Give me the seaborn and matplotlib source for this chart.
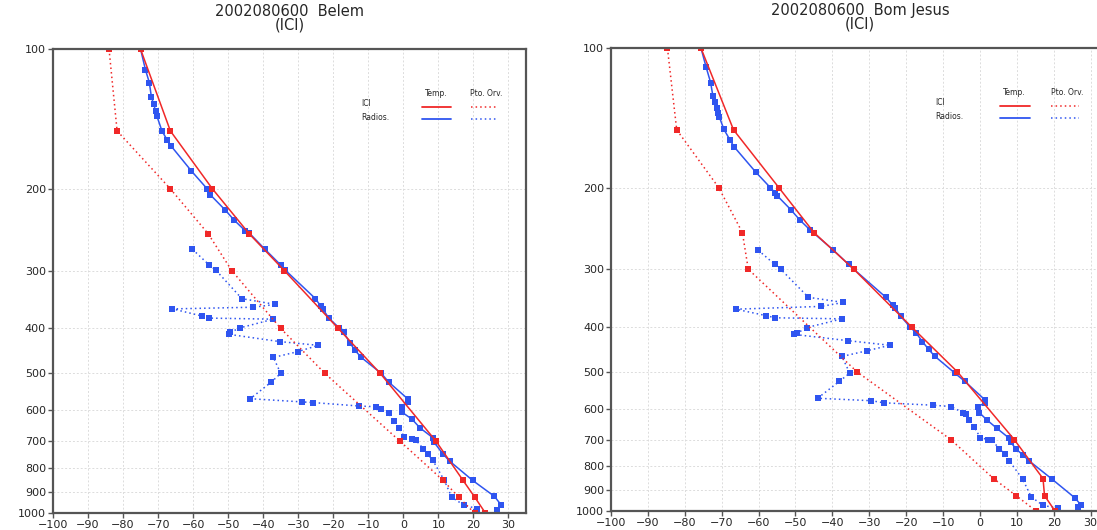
import matplotlib
matplotlib.use('Agg')
import matplotlib.pyplot as plt
import seaborn as sns

# niveis padrao do modelo ICI (hPa)
niveis_ici = [100, 150, 200, 250, 300, 400, 500, 700, 850, 925, 1000]

# --- Belem ---
belem_ici_temp = [-75, -66.5, -54.5, -44, -34, -18.6, -6.6, 9.3, 17, 20.4, 23.4]
belem_ici_orv = [-84, -81.7, -66.5, -55.7, -49, -35, -22.4, -1, 11.3, 15.8, 20.3]

belem_rad_p_temp = [100, 110.8, 118, 127, 131, 136, 139, 150, 157, 162, 183, 200, 206, 222,
                    234, 246, 249, 270, 292, 299, 345, 358, 363, 380, 399, 408, 429, 446,
                    462, 500, 522, 567, 576, 590, 607, 627, 656, 688, 703, 746, 773, 851,
                    921, 963, 985]
belem_rad_temp = [-75, -73.6, -72.5, -71.9, -71.3, -70.7, -70.4, -68.9, -67.4, -66.2, -60.5,
                  -56, -55.1, -50.9, -48.2, -45.2, -44, -39.5, -35, -33.8, -25.1, -23.6, -23,
                  -21.3, -18.3, -17, -15.3, -13.8, -12, -6.3, -4.2, 1.2, 1.2, -0.3, -0.3, 2.4,
                  4.8, 8.4, 8.7, 11.3, 13.2, 19.8, 26, 28, 26.6]

belem_rad_p_orv = [270, 292, 299, 345, 355, 360, 363, 376, 380, 382, 399, 408, 412, 427, 435,
                   449, 462, 500, 522, 567, 576, 578, 588, 590, 597, 610, 632, 656, 686, 693,
                   697, 727, 746, 770, 851, 925, 963, 978, 995]
belem_rad_orv = [-60.2, -55.4, -53.6, -46.1, -36.5, -42.8, -65.9, -57.5, -55.4, -37.1, -46.7,
                 -49.4, -49.7, -35.3, -24.3, -30.2, -37.1, -35, -37.7, -43.7, -29, -25.7, -12.6,
                 -7.8, -6.3, -4.2, -2.7, -1.2, 0.3, 2.4, 3.6, 5.7, 6.9, 8.4, 11.7, 13.8, 17.4,
                 21, 20.7]

# --- Bom Jesus ---
bomjesus_ici_temp = [-75.6, -66.8, -54.5, -45, -34.2, -18.5, -6.1, 9.3, 17.1, 17.5, 20.4]
niveis_ici_orv_bj = [100, 150, 200, 250, 300, 500, 700, 850, 925, 1000]
bomjesus_ici_orv = [-84.7, -82.2, -70.8, -64.4, -62.8, -33.3, -7.9, 3.7, 9.8, 15.3]

bomjesus_rad_p_temp = [100, 110, 118.6, 126.6, 130.4, 134.7, 138, 141, 149.7, 158, 163, 185,
                       200, 205, 208, 223, 235, 247, 273, 293, 300, 345, 358, 364, 379, 400,
                       413, 430, 447, 462, 503, 524, 575, 583, 594, 612, 635, 662, 696, 710,
                       734, 755, 779, 853, 935, 971, 980]
bomjesus_rad_temp = [-75.6, -74.2, -73.0, -72.4, -71.8, -71.3, -70.9, -70.6, -69.4, -67.7,
                     -66.7, -60.8, -56.8, -55.6, -55.0, -51.3, -48.8, -46.0, -39.7, -35.6,
                     -34.2, -25.5, -23.7, -22.9, -21.5, -18.9, -17.2, -15.6, -13.9, -12.3,
                     -6.8, -4.1, 1.4, 1.4, -0.5, -0.2, 1.9, 4.6, 8.0, 8.4, 9.8, 11.6, 13.4,
                     19.6, 25.7, 27.5, 26.6]

bomjesus_rad_p_orv = [273, 293, 300, 345, 354, 361, 366, 378, 382, 384, 401, 413, 415, 428,
                      438, 450, 463, 503, 524, 570, 577, 583, 590, 594, 612, 617, 635, 657,
                      693, 700, 703, 732, 752, 779, 853, 931, 971, 985]
bomjesus_rad_orv = [-60.1, -55.6, -54.0, -46.5, -37.0, -43.1, -66.2, -57.9, -55.6, -37.4,
                    -46.9, -49.7, -50.3, -35.8, -24.4, -30.6, -37.4, -35.3, -38.1, -44.0,
                    -29.4, -26.1, -12.8, -7.8, -4.7, -3.8, -2.9, -1.6, 0.1, 2.1, 3.2, 5.3,
                    6.8, 8.0, 11.6, 13.9, 17.1, 21.2]

x_ticks = list(range(-100, 31, 10))
y_ticks = [100, 200, 300, 400, 500, 600, 700, 800, 900, 1000]

VERMELHO = '#f02828'
AZUL = '#2f55f0'
PONTILHADO = (0, (1, 2))
MS = 4.0

sns.set_style('white')
plt.rcParams['font.family'] = ['DejaVu Sans']


def desenhar_painel(ax, titulo, ici_temp, p_ici_orv, ici_orv, p_rad_t, rad_t, p_rad_o, rad_o):
    ax.set_yscale('log')

    # radiossonda primeiro, ICI por cima
    sns.lineplot(x=rad_o, y=p_rad_o, sort=False, estimator=None, ax=ax, color=AZUL,
                 linestyle=PONTILHADO, linewidth=1.1, marker='s', markersize=MS,
                 markeredgewidth=0)
    sns.lineplot(x=rad_t, y=p_rad_t, sort=False, estimator=None, ax=ax, color=AZUL,
                 linewidth=1.1, marker='s', markersize=MS, markeredgewidth=0)
    sns.lineplot(x=ici_orv, y=p_ici_orv, sort=False, estimator=None, ax=ax, color=VERMELHO,
                 linestyle=PONTILHADO, linewidth=1.1, marker='s', markersize=MS,
                 markeredgewidth=0)
    sns.lineplot(x=ici_temp, y=niveis_ici, sort=False, estimator=None, ax=ax, color=VERMELHO,
                 linewidth=1.1, marker='s', markersize=MS, markeredgewidth=0)

    ax.set_xlim(-100, 35)
    ax.set_ylim(1000, 100)
    ax.set_xticks(x_ticks)
    ax.set_xticklabels([str(v).replace('-', '\u2212') for v in x_ticks])
    ax.set_yticks(y_ticks)
    ax.set_yticklabels([str(v) for v in y_ticks])
    ax.minorticks_off()
    ax.tick_params(axis='both', labelsize=8, length=3.5, width=1, color='#555555',
                   direction='out', pad=1.5, left=True, bottom=True)
    ax.set_xlabel('')
    ax.set_ylabel('')

    ax.grid(True, color='#dcdcdc', linestyle=(0, (2, 2)), linewidth=0.7)
    ax.set_axisbelow(True)
    for sp in ax.spines.values():
        sp.set_color('#555555')
        sp.set_linewidth(1.6)

    ax.set_title(titulo, fontsize=10.5, pad=14, linespacing=0.88)

    # legenda no estilo GrADS
    tr = ax.transAxes
    ax.text(0.81, 0.905, 'Temp.', transform=tr, fontsize=5.5, ha='center', va='center')
    ax.text(0.915, 0.905, 'Pto. Orv.', transform=tr, fontsize=5.5, ha='center', va='center')
    ax.text(0.652, 0.882, 'ICI', transform=tr, fontsize=5.5, ha='left', va='center')
    ax.text(0.652, 0.853, 'Radios.', transform=tr, fontsize=5.5, ha='left', va='center')
    ax.plot([0.781, 0.841], [0.876, 0.876], transform=tr, color=VERMELHO, lw=1.3)
    ax.plot([0.883, 0.94], [0.876, 0.876], transform=tr, color=VERMELHO, lw=1.1,
            linestyle=PONTILHADO)
    ax.plot([0.781, 0.841], [0.849, 0.849], transform=tr, color=AZUL, lw=1.3)
    ax.plot([0.883, 0.94], [0.849, 0.849], transform=tr, color=AZUL, lw=1.1,
            linestyle=PONTILHADO)


fig = plt.figure(figsize=(10.97, 5.30), dpi=100)
ax1 = fig.add_axes([0.0483, 0.0321, 0.4312, 0.875])
ax2 = fig.add_axes([0.557, 0.0353, 0.454, 0.8736])

desenhar_painel(ax1, '2002080600  Belem\n(ICI)', belem_ici_temp, niveis_ici, belem_ici_orv,
                belem_rad_p_temp, belem_rad_temp, belem_rad_p_orv, belem_rad_orv)
desenhar_painel(ax2, '2002080600  Bom Jesus\n(ICI)', bomjesus_ici_temp, niveis_ici_orv_bj,
                bomjesus_ici_orv, bomjesus_rad_p_temp, bomjesus_rad_temp,
                bomjesus_rad_p_orv, bomjesus_rad_orv)

fig.savefig('out.png', dpi=100)
